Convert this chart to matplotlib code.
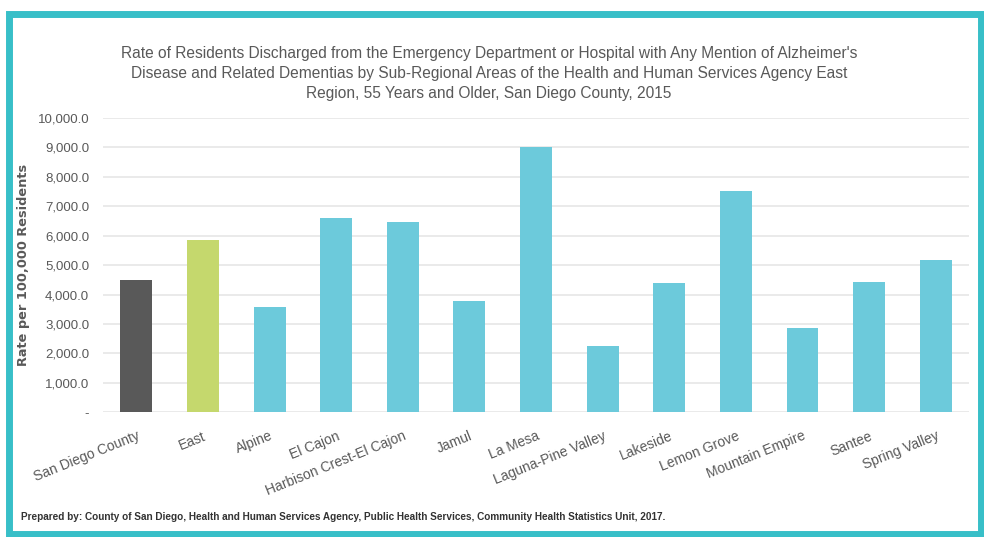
import matplotlib
matplotlib.use("Agg")
import matplotlib.pyplot as plt
from matplotlib import font_manager
from matplotlib.patches import Rectangle
from matplotlib.ticker import FuncFormatter

areas = ["San Diego County", "East", "Alpine", "El Cajon", "Harbison Crest-El Cajon",
         "Jamul", "La Mesa", "Laguna-Pine Valley", "Lakeside", "Lemon Grove",
         "Mountain Empire", "Santee", "Spring Valley"]
rates = [4480, 5840, 3580, 6610, 6470, 3770, 9010, 2250, 4410, 7530, 2850, 4430, 5170]
bar_colors = ["#595959", "#c5d86d"] + ["#6ccadb"] * 11

title = ("Rate of Residents Discharged from the Emergency Department or Hospital with Any Mention of Alzheimer's\n"
         "Disease and Related Dementias by Sub-Regional Areas of the Health and Human Services Agency East\n"
         "Region, 55 Years and Older, San Diego County, 2015")
footer = ("Prepared by: County of San Diego, Health and Human Services Agency, "
          "Public Health Services, Community Health Statistics Unit, 2017.")

names = {f.name for f in font_manager.fontManager.ttflist}
narrow = "Liberation Sans Narrow" if "Liberation Sans Narrow" in names else "Liberation Sans"

grey = "#595959"
fig = plt.figure(figsize=(9.84, 5.37), dpi=100)
ax = fig.add_axes([0.1047, 0.2322, 0.8801, 0.5481])

x = range(len(areas))
ax.bar(x, rates, width=0.48, color=bar_colors, zorder=3)
ax.set_xlim(-0.5, len(areas) - 0.5)
ax.set_ylim(0, 10000)
ax.set_yticks(range(0, 10001, 1000))
ax.yaxis.set_major_formatter(FuncFormatter(lambda v, p: "-" if v == 0 else f"{v:,.1f}"))
ax.grid(axis="y", color="#e6e6e6", linewidth=1.2, zorder=0)
for s in ax.spines.values():
    s.set_visible(False)
ax.tick_params(length=0)
ax.tick_params(axis="y", pad=10, labelsize=9.5, labelcolor=grey)
for lab in ax.get_yticklabels():
    lab.set_family(narrow)

ax.set_xticks(list(x))
ax.set_xticklabels(areas, rotation=22, ha="right", rotation_mode="anchor",
                   fontsize=10, color=grey, family=narrow)
ax.tick_params(axis="x", pad=12)

ax.set_ylabel("Rate per 100,000 Residents", fontsize=9.3, color=grey,
              fontweight="bold")
ax.yaxis.set_label_coords(-0.084, 0.5)

fig.text(0.497, 0.915, title, ha="center", va="top", fontsize=11.2, color=grey,
         family=narrow, linespacing=1.45)
fig.text(0.021, 0.037, footer, ha="left", va="center", fontsize=7.2, color="#333333",
         family=narrow, fontweight="bold")

fig.add_artist(Rectangle((8.5 / 984, 3.5 / 537), (980.5 - 8.5) / 984, (533.5 - 13.5) / 537,
                         transform=fig.transFigure, fill=False, edgecolor="#38bfc8",
                         linewidth=5.0))

fig.savefig("out.png", dpi=100)
